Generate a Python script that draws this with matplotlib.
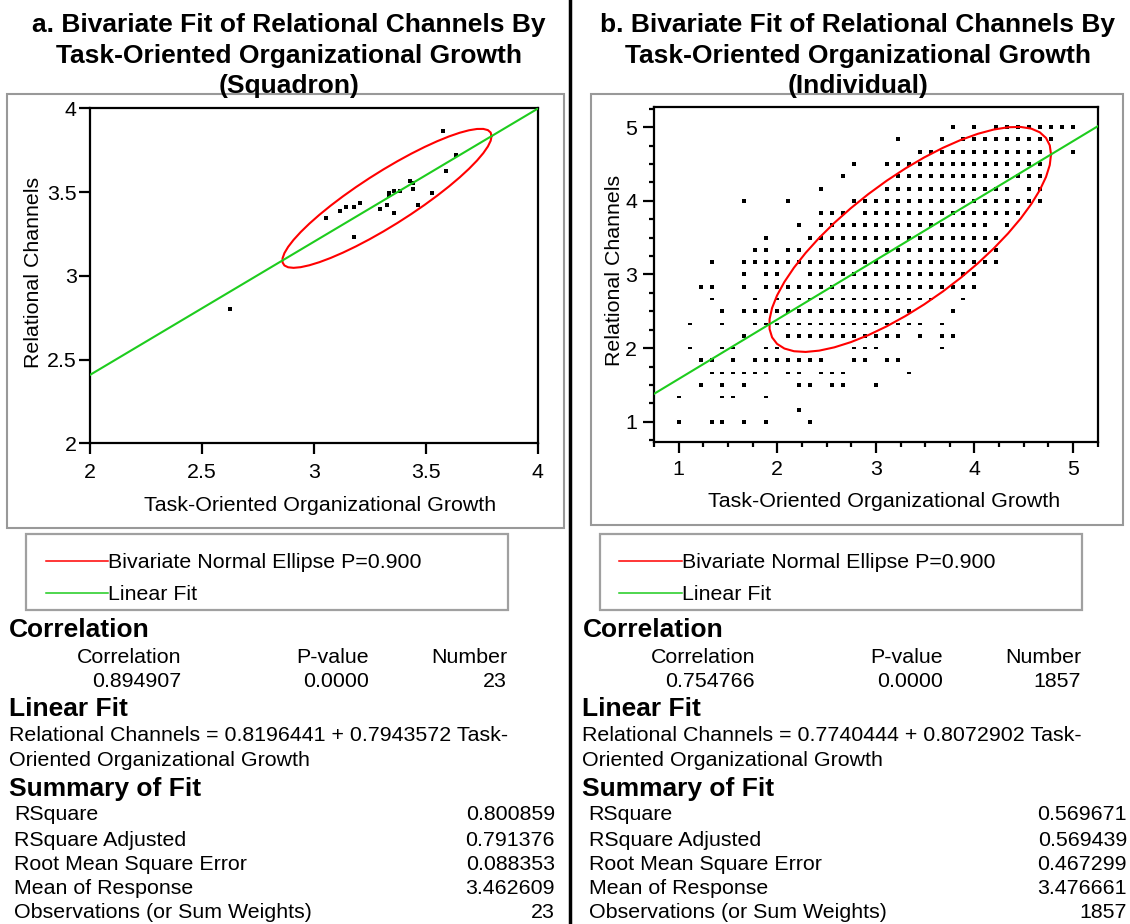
import numpy as np
import matplotlib.pyplot as plt
from matplotlib.path import Path
from matplotlib.patches import Rectangle
from matplotlib.lines import Line2D
from matplotlib.ticker import MultipleLocator, FormatStrFormatter

plt.rcParams['font.family'] = ['Liberation Sans', 'DejaVu Sans']

W, H = 1130, 924

# panel a: squadron means (x = task-oriented growth, y = relational channels)
sq_x = [3.576, 3.636, 3.591, 3.527, 3.464, 3.442, 3.430, 3.442, 3.385, 3.359, 3.338, 3.338,
        3.326, 3.359, 3.296, 3.207, 3.180, 3.144, 3.117, 3.055, 3.180, 2.625, 3.385]
sq_y = [3.866, 3.723, 3.627, 3.496, 3.423, 3.520, 3.568, 3.556, 3.508, 3.506, 3.496, 3.482,
        3.423, 3.377, 3.401, 3.436, 3.413, 3.413, 3.389, 3.347, 3.233, 2.802, 3.508]

# panel b: individual responses sit on a grid (x in ninths, y in sixths)
ind_y6 = [30, 29, 28, 27, 26, 25, 24, 23, 22, 21, 20, 19, 18, 17, 16, 15, 14, 13, 12, 11, 10, 9, 8, 7, 6]
ind_x9 = [
    [34, 36, 38, 39, 40, 41, 42, 43, 44, 45],
    [29, 33, 35, 36, 37, 38, 39, 40, 41, 42, 43],
    [31, 32, 33, 34, 35, 36, 37, 38, 39, 40, 41, 42, 45],
    [25, 28, 29, 30, 31, 32, 33, 34, 35, 36, 37, 38, 39, 40, 41, 42],
    [24, 29, 30, 31, 32, 33, 34, 35, 36, 37, 38, 39, 40, 41, 42],
    [22, 28, 29, 30, 31, 32, 33, 34, 35, 36, 37, 38, 39, 41, 42],
    [15, 19, 25, 26, 27, 28, 29, 30, 31, 32, 33, 34, 35, 36, 37, 38, 39, 40, 41, 42],
    [22, 23, 24, 26, 27, 28, 29, 30, 31, 32, 33, 34, 35, 36, 37, 38, 39, 40],
    [20, 22, 23, 24, 25, 26, 27, 28, 29, 30, 31, 32, 33, 34, 35, 36, 37, 39],
    [17, 21, 22, 23, 24, 25, 26, 27, 28, 29, 30, 31, 32, 33, 34, 35, 36, 37, 38],
    [16, 17, 19, 20, 22, 23, 24, 25, 26, 27, 28, 29, 30, 31, 32, 33, 34, 35, 36, 37, 38],
    [12, 15, 16, 17, 18, 19, 20, 21, 22, 23, 24, 25, 26, 27, 28, 29, 30, 31, 32, 33, 34, 35, 36, 37, 38],
    [15, 17, 18, 21, 22, 23, 24, 25, 26, 27, 28, 29, 30, 31, 32, 33, 34, 35, 36],
    [11, 12, 15, 17, 18, 19, 20, 21, 22, 23, 24, 25, 26, 27, 28, 29, 30, 31, 32, 33, 34, 35, 36],
    [12, 16, 18, 19, 20, 21, 22, 23, 24, 25, 26, 27, 28, 29, 30, 31, 32, 35],
    [13, 15, 16, 17, 18, 19, 20, 21, 22, 23, 24, 25, 26, 27, 28, 29, 30, 34],
    [10, 13, 16, 17, 18, 19, 20, 21, 22, 23, 24, 25, 26, 27, 28, 29, 30, 31, 33],
    [15, 19, 20, 21, 22, 23, 24, 25, 26, 27, 28, 29, 31, 33, 34],
    [10, 13, 14, 17, 18, 25, 26, 27, 33],
    [11, 12, 14, 16, 17, 18, 19, 20, 21, 22, 25, 26, 28, 29],
    [12, 13, 14, 15, 16, 17, 19, 20, 22, 23, 24, 30],
    [11, 13, 15, 20, 21, 23, 24, 27],
    [9, 13, 14, 17],
    [20],
    [9, 12, 13, 15, 17, 21],
]
thin_rows_y6 = [16, 14, 12, 10, 8]   # rows that the original renders as dashes

# fit statistics (a, b)
titles = [["a. Bivariate Fit of Relational Channels By", "Task-Oriented Organizational Growth", "(Squadron)"],
          ["b. Bivariate Fit of Relational Channels By", "Task-Oriented Organizational Growth", "(Individual)"]]
corr = [0.894907, 0.754766]
pval = ["0.0000", "0.0000"]
n_obs = [23, 1857]
intercept = [0.8196441, 0.7740444]
slope = [0.7943572, 0.8072902]
rsq = [0.800859, 0.569671]
rsq_adj = [0.791376, 0.569439]
rmse = [0.088353, 0.467299]
mean_resp = [3.462609, 3.476661]
ellipse_p = 0.900

RED = '#ff0000'
GREEN = '#1ecc1e'
GRAY = '#999999'
FS = 15.4
FS_HEAD = 19


def fx(x):
    return x / W


def fy(y):
    return 1 - y / H


def ftext(x, y, s, **kw):
    fig.text(fx(x), fy(y), s, **kw)


def frect(x0, y0, x1, y1, **kw):
    fig.add_artist(Rectangle((fx(x0), fy(y1)), (x1 - x0) / W, (y1 - y0) / H,
                             transform=fig.transFigure, fill=False, **kw))


def fline(x0, x1, y0, y1, **kw):
    fig.add_artist(Line2D([fx(x0), fx(x1)], [fy(y0), fy(y1)], transform=fig.transFigure, **kw))


def ellipse(i):
    r = corr[i]
    my = mean_resp[i]
    mx = (my - intercept[i]) / slope[i]
    n = n_obs[i]
    sy = rmse[i] * np.sqrt((n - 2) / ((n - 1) * (1 - rsq[i])))
    sx = r * sy / slope[i]
    d = np.sqrt(-2 * np.log(1 - ellipse_p))
    t = np.linspace(0, 2 * np.pi, 48)
    u, v = d * np.cos(t), d * np.sin(t)
    ex = mx + sx * u
    ey = my + sy * (r * u + np.sqrt(1 - r ** 2) * v)
    return ex, ey


box = Path([(-1, -0.72), (1, -0.72), (1, 0.72), (-1, 0.72), (-1, -0.72)])
dash = Path([(-1, -0.3), (1, -0.3), (1, 0.3), (-1, 0.3), (-1, -0.3)])
MS = 3.4

fig = plt.figure(figsize=(W / 100, H / 100), dpi=100)


def style_axes(ax):
    for s in ax.spines.values():
        s.set_linewidth(1.6)
    ax.tick_params(which='major', direction='out', length=8, width=1.6, labelsize=FS)
    ax.tick_params(which='minor', direction='out', length=3.3, width=1.6)
    ax.xaxis.set_major_formatter(FormatStrFormatter('%g'))
    ax.yaxis.set_major_formatter(FormatStrFormatter('%g'))


# ---- panel a ----
ax1 = fig.add_axes([fx(90), fy(443.3), 447.5 / W, 335 / H])
ax1.plot(sq_x, sq_y, ls='none', marker=box, ms=MS, mew=0, color='black', zorder=2)
ex, ey = ellipse(0)
ax1.plot(ex, ey, color=RED, lw=1.5, zorder=3)
xs = np.array([2.0, 4.0])
ax1.plot(xs, intercept[0] + slope[0] * xs, color=GREEN, lw=1.5, zorder=4)
ax1.set_xlim(2, 4)
ax1.set_ylim(2, 4)
ax1.set_xticks([2, 2.5, 3, 3.5, 4])
ax1.set_yticks([2, 2.5, 3, 3.5, 4])
style_axes(ax1)
ax1.tick_params(axis='y', pad=1.5)
ax1.tick_params(axis='x', pad=6)

# ---- panel b ----
ax2 = fig.add_axes([fx(654), fy(441.7), 443.7 / W, 334.4 / H])
for y6, cols in zip(ind_y6, ind_x9):
    mk = dash if y6 in thin_rows_y6 else box
    ax2.plot([c / 9 for c in cols], [y6 / 6] * len(cols), ls='none', marker=mk,
             ms=MS, mew=0, color='black', zorder=2)
ex, ey = ellipse(1)
ax2.plot(ex, ey, color=RED, lw=1.5, zorder=3)
xs = np.array([0.75, 5.25])
ax2.plot(xs, intercept[1] + slope[1] * xs, color=GREEN, lw=1.5, zorder=4)
ax2.set_xlim(0.75, 5.25)
ax2.set_ylim(0.73, 5.27)
ax2.set_xticks([1, 2, 3, 4, 5])
ax2.set_yticks([1, 2, 3, 4, 5])
ax2.xaxis.set_minor_locator(MultipleLocator(0.25))
ax2.yaxis.set_minor_locator(MultipleLocator(0.25))
style_axes(ax2)
ax2.tick_params(axis='y', pad=4)
ax2.tick_params(axis='x', pad=5)

# ---- frames, divider, titles, labels ----
fline(570, 570, 0, H, color='black', lw=2.5)
frect(7, 94, 564, 528, ec=GRAY, lw=1.5)
frect(591, 94, 1123, 525, ec=GRAY, lw=1.5)

cx = [289, 858]
for i in range(2):
    for k, line in enumerate(titles[i]):
        ftext(cx[i], [31.7, 63.3, 93.3][k], line, ha='center', va='baseline',
              fontsize=FS_HEAD, fontweight='bold')

ftext(34, 272, 'Relational Channels', rotation=90, ha='center', va='center', fontsize=FS)
ftext(615, 270, 'Relational Channels', rotation=90, ha='center', va='center', fontsize=FS)
ftext(320, 510.7, 'Task-Oriented Organizational Growth', ha='center', va='baseline', fontsize=FS)
ftext(884, 506.7, 'Task-Oriented Organizational Growth', ha='center', va='baseline', fontsize=FS)

# ---- legend boxes ----
leg = [(26, 508, 45.5, 108), (600, 1082, 619, 682)]
for x0, x1, l0, l1 in leg:
    frect(x0, 534, x1, 610, ec='#a0a0a0', lw=1.6)
    fline(l0, l1, 560.5, 560.5, color=RED, lw=1.1)
    fline(l0, l1, 592.5, 592.5, color=GREEN, lw=1.1)
    ftext(l1, 568.3, 'Bivariate Normal Ellipse P=%.3f' % ellipse_p, ha='left', va='baseline', fontsize=FS)
    ftext(l1, 600, 'Linear Fit', ha='left', va='baseline', fontsize=FS)

# ---- report text ----
hx = [8.7, 582.5]
colr = [(181, 369, 507), (755, 942.5, 1081)]
lblx = [14.5, 588.6]
valr = [555, 1127]
for i in range(2):
    ftext(hx[i], 636.7, 'Correlation', ha='left', va='baseline', fontsize=FS_HEAD, fontweight='bold')
    c1, c2, c3 = colr[i]
    ftext(c1, 662.7, 'Correlation', ha='right', va='baseline', fontsize=FS)
    ftext(c2, 662.7, 'P-value', ha='right', va='baseline', fontsize=FS)
    ftext(c3, 662.7, 'Number', ha='right', va='baseline', fontsize=FS)
    ftext(c1, 686.7, '%.6f' % corr[i], ha='right', va='baseline', fontsize=FS)
    ftext(c2, 686.7, pval[i], ha='right', va='baseline', fontsize=FS)
    ftext(c3, 686.7, '%d' % n_obs[i], ha='right', va='baseline', fontsize=FS)

    ftext(hx[i], 716, 'Linear Fit', ha='left', va='baseline', fontsize=FS_HEAD, fontweight='bold')
    ftext(hx[i], 740.7, 'Relational Channels = %.7f + %.7f Task-' % (intercept[i], slope[i]),
          ha='left', va='baseline', fontsize=FS)
    ftext(hx[i], 766, 'Oriented Organizational Growth', ha='left', va='baseline', fontsize=FS)

    ftext(hx[i], 796, 'Summary of Fit', ha='left', va='baseline', fontsize=FS_HEAD, fontweight='bold')
    rows = [('RSquare', '%.6f' % rsq[i]),
            ('RSquare Adjusted', '%.6f' % rsq_adj[i]),
            ('Root Mean Square Error', '%.6f' % rmse[i]),
            ('Mean of Response', '%.6f' % mean_resp[i]),
            ('Observations (or Sum Weights)', '%d' % n_obs[i])]
    for (lab, val), yb in zip(rows, [820, 845.7, 870, 894, 917.7]):
        ftext(lblx[i], yb, lab, ha='left', va='baseline', fontsize=FS)
        ftext(valr[i], yb, val, ha='right', va='baseline', fontsize=FS)

fig.savefig('out.png', dpi=100)
